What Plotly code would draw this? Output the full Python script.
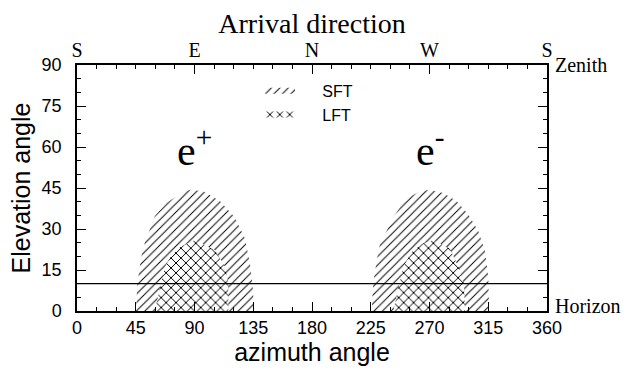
import plotly.graph_objects as go

# ---- data ----
sft_east_az = [45.2, 46.2, 47.7, 49.5, 52.1, 55.4, 59.7, 68.7, 80.2, 86.6, 96.7, 109.5, 121.0, 128.7, 132.5, 134.6, 135.6]
sft_east_el = [0, 10, 15, 20.4, 25.2, 29.4, 34.8, 39.6, 43.2, 44.4, 43.8, 40.2, 34.2, 26.4, 17.4, 9.1, 0]

sft_west_az = [225.7, 226.9, 229.5, 232.1, 237.2, 242.3, 251.2, 262.7, 270.3, 280.5, 290.7, 299.6, 307.3, 312.4, 315.0, 315.6]
sft_west_el = [0, 10, 18.3, 24.5, 29.4, 34.2, 40.8, 43.8, 44.4, 43.2, 40.2, 35.4, 29.4, 22.2, 12.6, 0]

lft_east_az = [59.7, 64.3, 67.4, 72.5, 78.9, 90.4, 105.7, 113.4, 115.9, 115.9]
lft_east_el = [0, 10.2, 16.2, 20.4, 23.4, 26.0, 22.2, 16.2, 10.2, 0]

lft_west_az = [242.3, 246.9, 250.0, 256.3, 264.0, 273.0, 285.7, 292.1, 296.4, 297.2]
lft_west_el = [0, 10, 16.2, 21.6, 24.5, 26.0, 22.8, 16.2, 10, 0]

horizon_el = 10
az_range = [0, 360]
el_range = [0, 90]

x_ticks = [0, 45, 90, 135, 180, 225, 270, 315, 360]
y_ticks = [0, 15, 30, 45, 60, 75, 90]
top_ticks = [0, 90, 180, 270, 360]
top_labels = ["S", "E", "N", "W", "S"]

charge_labels = ["e<sup>+</sup>", "e<sup>-</sup>"]
charge_az = [90, 270]
charge_el = [60, 60]

SERIF = "Liberation Serif, Times New Roman, serif"
SANS = "Liberation Sans, Arial, sans-serif"
NB = "\u00a0"

fig = go.Figure()

def region(az, el, name, shape, size, solidity, show):
    return go.Scatter(
        x=az + [az[0]], y=el + [el[0]], mode="none", fill="toself",
        fillcolor="white", name=NB * 5 + name, legendgroup=name, showlegend=show,
        fillpattern=dict(shape=shape, size=size, solidity=solidity,
                         fgcolor="black", bgcolor="white", fillmode="replace"),
        hoverinfo="skip",
    )

fig.add_trace(region(sft_east_az, sft_east_el, "SFT", "/", 6, 0.16, True))
fig.add_trace(region(sft_west_az, sft_west_el, "SFT", "/", 6, 0.16, False))
fig.add_trace(region(lft_east_az, lft_east_el, "LFT", "x", 7, 0.26, True))
fig.add_trace(region(lft_west_az, lft_west_el, "LFT", "x", 7, 0.26, False))

fig.add_trace(go.Scatter(x=az_range, y=[horizon_el, horizon_el], mode="lines",
                         line=dict(color="black", width=1.3), showlegend=False,
                         hoverinfo="skip"))

# dummy trace for top axis
fig.add_trace(go.Scatter(x=az_range, y=el_range, xaxis="x2", mode="none",
                         showlegend=False, hoverinfo="skip"))

W, H = 626, 372
L, R, T, B = 77, 79, 65, 57

fig.update_layout(
    width=W, height=H,
    margin=dict(l=L, r=R, t=T, b=B),
    paper_bgcolor="white", plot_bgcolor="white",
    title=dict(text="Arrival direction", font=dict(family=SERIF, size=28, color="black"),
               x=0.5, xref="paper", xanchor="center", y=1 - 23 / H, yref="container",
               yanchor="middle"),
    xaxis=dict(range=az_range, tickvals=x_ticks, ticks="inside", ticklen=9, tickwidth=1,
               tickcolor="black", showline=True, linecolor="black", linewidth=1.5,
               showgrid=False, zeroline=False,
               tickfont=dict(family=SANS, size=18, color="black"),
               minor=dict(dtick=15, tick0=0, ticks="inside", ticklen=4, tickcolor="black",
                          showgrid=False),
               title=dict(text="azimuth angle", font=dict(family=SANS, size=25, color="black"),
                          standoff=4)),
    xaxis2=dict(range=az_range, overlaying="x", side="top", tickvals=top_ticks,
                ticktext=top_labels, ticks="inside", ticklen=9, tickcolor="black",
                showline=True, linecolor="black", linewidth=1.5, showgrid=False,
                zeroline=False, tickfont=dict(family=SERIF, size=20, color="black"),
                ticklabelstandoff=-2,
                minor=dict(dtick=15, tick0=0, ticks="inside", ticklen=4, tickcolor="black",
                           showgrid=False)),
    yaxis=dict(range=el_range, tickvals=y_ticks, ticks="inside", ticklen=9, tickwidth=1,
               tickcolor="black", showline=True, linecolor="black", linewidth=1.5,
               mirror="ticks", showgrid=False, zeroline=False,
               tickfont=dict(family=SANS, size=18, color="black"),
               ticklabelstandoff=10,
               minor=dict(dtick=5, tick0=0, ticks="inside", ticklen=4, tickcolor="black",
                          showgrid=False)),
    legend=dict(x=(260 - L) / (W - L - R), y=(315 - 74) / 250,
                xanchor="left", yanchor="top", bgcolor="rgba(0,0,0,0)",
                font=dict(family=SANS, size=16, color="black"), tracegroupgap=0),
    showlegend=True,
)
fig.update_yaxes(title=dict(text="Elevation angle", font=dict(family=SANS, size=25, color="black"),
                            standoff=4))

for txt, ax_, el_ in zip(charge_labels, charge_az, charge_el):
    fig.add_annotation(x=ax_, y=el_, text=txt, showarrow=False, xanchor="center",
                       yanchor="middle", font=dict(family=SERIF, size=42, color="black"))

fig.add_annotation(x=1, xref="paper", y=90, yref="y", text="Zenith", showarrow=False,
                   xanchor="left", yanchor="middle", xshift=6,
                   font=dict(family=SERIF, size=20, color="black"))
fig.add_annotation(x=1, xref="paper", y=0, yref="y", text="Horizon", showarrow=False,
                   xanchor="left", yanchor="bottom", xshift=6, yshift=-8,
                   font=dict(family=SERIF, size=20, color="black"))

fig.write_html("out.html")
